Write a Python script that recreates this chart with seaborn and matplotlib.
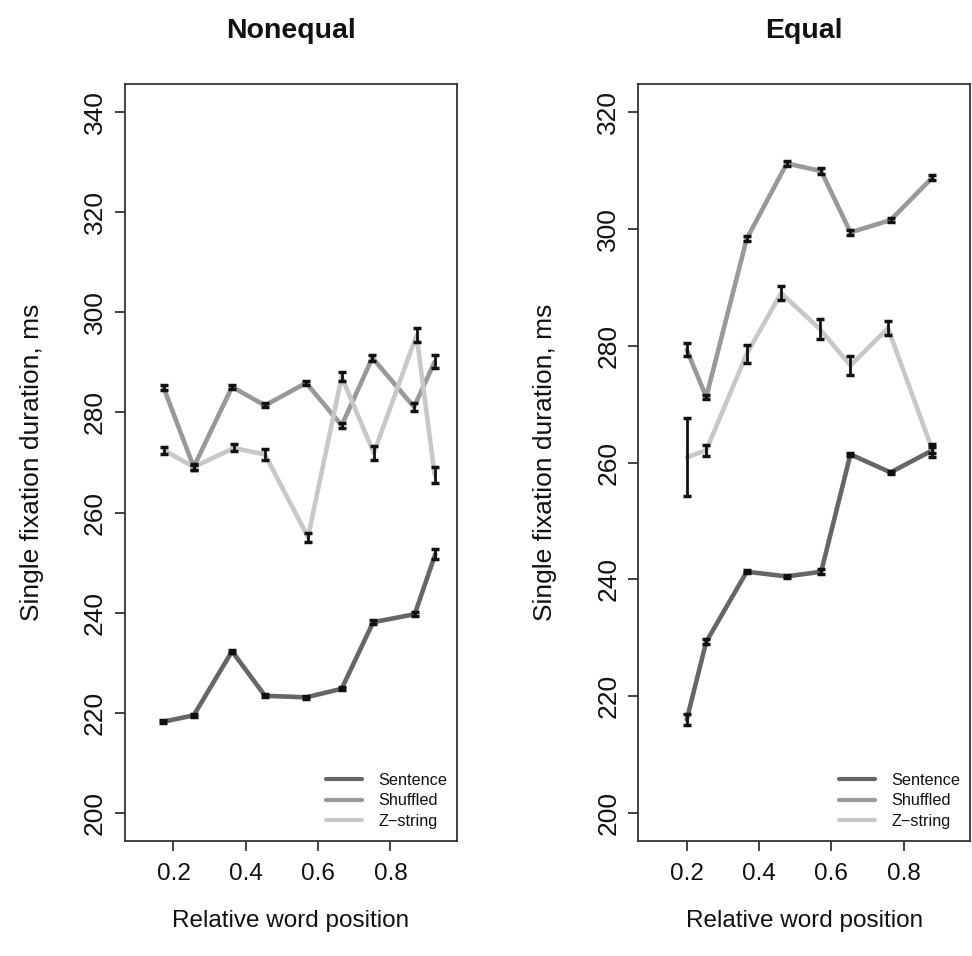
import numpy as np
import pandas as pd
import matplotlib
matplotlib.use("Agg")
import matplotlib.pyplot as plt
import seaborn as sns

conditions = ["Sentence", "Shuffled", "Z\u2212string"]

# Nonequal panel
ne_x_sent = [0.170, 0.256, 0.362, 0.453, 0.567, 0.665, 0.752, 0.867, 0.924]
ne_y_sent = [218.2, 219.5, 232.3, 223.4, 223.1, 224.8, 238.1, 239.7, 251.7]
ne_e_sent = [0.3, 0.3, 0.3, 0.3, 0.3, 0.3, 0.4, 0.4, 1.0]
ne_x_shuf = [0.173, 0.256, 0.362, 0.453, 0.567, 0.665, 0.750, 0.865, 0.922]
ne_y_shuf = [284.9, 269.1, 285.1, 281.4, 285.9, 277.4, 290.9, 281.1, 290.1]
ne_e_shuf = [0.5, 0.5, 0.4, 0.4, 0.4, 0.55, 0.6, 0.8, 1.3]
ne_x_zstr = [0.175, 0.256, 0.367, 0.453, 0.572, 0.665, 0.754, 0.872, 0.922]
ne_y_zstr = [272.4, 269.1, 272.9, 271.6, 255.1, 287.1, 271.9, 295.4, 267.6]
ne_e_zstr = [0.6, 0.6, 0.7, 1.1, 0.9, 0.9, 1.3, 1.4, 1.6]

# Equal panel
eq_x_sent = [0.200, 0.254, 0.366, 0.477, 0.572, 0.653, 0.764, 0.880]
eq_y_sent = [216.0, 229.3, 241.3, 240.5, 241.3, 261.4, 258.3, 262.1]
eq_e_sent = [1.0, 0.4, 0.3, 0.3, 0.4, 0.3, 0.3, 0.5]
eq_x_shuf = [0.200, 0.254, 0.366, 0.477, 0.572, 0.653, 0.764, 0.880]
eq_y_shuf = [279.3, 271.2, 298.3, 311.2, 309.9, 299.4, 301.5, 308.8]
eq_e_shuf = [1.1, 0.4, 0.4, 0.4, 0.5, 0.4, 0.4, 0.4]
eq_x_zstr = [0.200, 0.254, 0.366, 0.461, 0.568, 0.653, 0.757, 0.880]
eq_y_zstr = [260.9, 262.1, 278.6, 289.0, 282.9, 276.6, 283.0, 262.1]
eq_e_zstr = [6.7, 0.9, 1.5, 1.15, 1.7, 1.6, 1.2, 1.15]

colors = {"Sentence": "#666666", "Shuffled": "#999999", "Z\u2212string": "#c8c8c8"}


def make_df(xs, ys, es):
    parts = []
    for cond, x, y, e in zip(conditions, xs, ys, es):
        parts.append(pd.DataFrame({"pos": x, "dur": y, "err": e, "cond": cond}))
    return pd.concat(parts, ignore_index=True)


ne = make_df([ne_x_sent, ne_x_shuf, ne_x_zstr],
             [ne_y_sent, ne_y_shuf, ne_y_zstr],
             [ne_e_sent, ne_e_shuf, ne_e_zstr])
eq = make_df([eq_x_sent, eq_x_shuf, eq_x_zstr],
             [eq_y_sent, eq_y_shuf, eq_y_zstr],
             [eq_e_sent, eq_e_shuf, eq_e_zstr])

sns.set_theme(style="white")
plt.rcParams["font.family"] = ["Liberation Sans", "DejaVu Sans"]
plt.rcParams["text.color"] = "#111111"
plt.rcParams["axes.labelcolor"] = "#111111"

fig = plt.figure(figsize=(9.72, 9.56), dpi=100)
ax1 = fig.add_axes([0.1286, 0.1203, 0.3416, 0.7918])
ax2 = fig.add_axes([0.6567, 0.1203, 0.3413, 0.7918])


def draw(ax, df, title, ylim, yticks):
    sns.lineplot(data=df, x="pos", y="dur", hue="cond", palette=colors,
                 estimator=None, sort=False, linewidth=3.3, ax=ax, legend=False)
    ax.errorbar(df["pos"], df["dur"], yerr=df["err"], fmt="none",
                ecolor="#111111", elinewidth=2, capsize=3, capthick=2.5, zorder=5)
    pad = (ylim[1] - ylim[0]) * 0.04
    ax.set_ylim(ylim[0] - pad, ylim[1] + pad)
    ax.set_xlim(0.1 - 0.034, 0.95 + 0.034)
    ax.set_xticks([0.2, 0.4, 0.6, 0.8])
    ax.set_xticklabels(["0.2", "0.4", "0.6", "0.8"], fontsize=17.5)
    ax.set_yticks(yticks)
    ax.set_yticklabels([str(t) for t in yticks], rotation=90, va="center",
                       fontsize=19)
    ax.tick_params(axis="both", direction="out", length=7, width=1.2,
                   colors="#222222", labelcolor="#111111",
                   left=True, bottom=True)
    ax.tick_params(axis="x", pad=9)
    ax.tick_params(axis="y", pad=6)
    for s in ax.spines.values():
        s.set_color("#333333")
        s.set_linewidth(1.3)
    ax.set_xlabel("Relative word position", fontsize=17.5, labelpad=18)
    ax.set_ylabel("Single fixation duration, ms", fontsize=19, labelpad=28)
    ax.set_title(title, fontsize=20.5, fontweight="bold", pad=33)
    handles = [plt.Line2D([], [], color=colors[c], lw=3) for c in conditions]
    ax.legend(handles, conditions, loc="lower right", frameon=False,
              fontsize=11.7, handlelength=2.2, handletextpad=1.0,
              labelspacing=0.35, borderaxespad=0.2,
              bbox_to_anchor=(1.0, 0.003))


draw(ax1, ne, "Nonequal", (200, 340), list(range(200, 341, 20)))
draw(ax2, eq, "Equal", (200, 320), list(range(200, 321, 20)))

fig.savefig("out.png", dpi=100)
